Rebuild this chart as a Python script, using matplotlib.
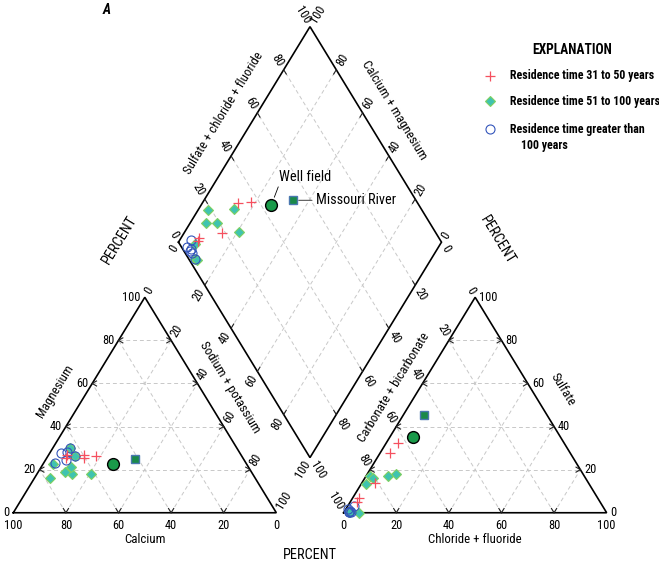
import numpy as np
import matplotlib.pyplot as plt
from matplotlib.lines import Line2D
from matplotlib import font_manager as fm
from matplotlib.textpath import TextPath

# pick a narrow sans face if one is installed (the original uses a condensed type)
FAMILY, STRETCH = 'Liberation Sans', 'normal'
narrow = [f for f in fm.fontManager.ttflist
          if ('narrow' in f.name.lower() or 'condensed' in f.name.lower()
              or str(f.stretch) in ('condensed', 'semi-condensed'))
          and 'mono' not in f.name.lower()]
for pref in ('Liberation Sans Narrow', 'Roboto Condensed', 'Noto Sans', 'DejaVu Sans',
             'Open Sans', 'Roboto'):
    hit = [f for f in narrow if f.name.startswith(pref)]
    if hit:
        FAMILY, STRETCH = hit[0].name, str(hit[0].stretch)
        break
plt.rcParams['font.family'] = [FAMILY, 'DejaVu Sans']
plt.rcParams['font.stretch'] = STRETCH

# scale all type so the legend line has the width it has in the original
_w = TextPath((0, 0), 'Residence time 31 to 50 years', size=8.8,
              prop=fm.FontProperties(family=FAMILY, stretch=STRETCH,
                                     weight='bold')).get_extents().width * 100 / 72
FS = float(np.clip(142.7 / _w, 0.7, 1.15))

# Percent milliequivalents
# Residence time 31 to 50 years
red_ca = [59.6, 55.3, 60.4, 66.3, 67.4]
red_mg = [26.8, 26.5, 25.2, 26.8, 25.2]
red_na = [13.6, 18.2, 14.4, 6.9, 7.4]
red_hco3 = [68.4, 63.4, 81.3, 91.0, 92.3]
red_so4 = [27.6, 32.2, 13.9, 6.7, 5.1]
red_cl = [4.0, 4.4, 4.8, 2.3, 2.6]

# Residence time 51 to 100 years
teal_ca = [73.8, 68.9, 78.0, 70.8, 61.6, 63.3, 63.4, 67.5]
teal_mg = [22.5, 17.8, 16.0, 19.0, 17.8, 30.2, 26.4, 21.3]
teal_na = [3.7, 13.3, 6.0, 10.2, 20.6, 6.5, 10.2, 11.2]
teal_hco3 = [81.3, 71.1, 84.9, 80.7, 74.8, 94.3, 97.8, 97.3]
teal_so4 = [17.0, 18.0, 13.2, 16.2, 17.0, 0.0, 0.5, 0.3]
teal_cl = [1.7, 10.9, 1.9, 3.1, 8.2, 5.7, 1.7, 2.4]

# Residence time greater than 100 years
blue_ca = [67.9, 72.5, 63.3, 67.7, 63.4, 65.5]
blue_mg = [27.6, 23.2, 30.2, 24.5, 26.4, 28.3]
blue_na = [4.5, 4.3, 6.5, 7.8, 10.2, 6.2]
blue_hco3 = [94.6, 97.8, 97.4, 97.2, 97.7, 97.0]
blue_so4 = [3.1, 0.5, 1.6, 0.8, 0.5, 0.4]
blue_cl = [2.3, 1.7, 1.0, 2.0, 1.8, 2.6]

# Well field and Missouri River
well = dict(ca=50.8, mg=22.5, na=26.7, hco3=56.1, so4=35.3, cl=8.6)
river = dict(ca=41.3, mg=24.8, na=33.9, hco3=46.7, so4=45.3, cl=8.0)

ticks = [0, 20, 40, 60, 80, 100]

# ---- geometry ----
H = np.sqrt(3) / 2
GAP = 25.6
OX = 100 + GAP
B = np.array([100 + GAP / 2, GAP / 2 * np.sqrt(3)])
VL = np.array([-50.0, 100 * H])
VR = np.array([50.0, 100 * H])


def cat_xy(ca, mg, na):
    ca, mg, na = map(np.asarray, (ca, mg, na))
    t = ca + mg + na
    return 100 * (na + mg / 2) / t, 100 * mg * H / t


def an_xy(hco3, so4, cl):
    hco3, so4, cl = map(np.asarray, (hco3, so4, cl))
    t = hco3 + so4 + cl
    return OX + 100 * (cl + so4 / 2) / t, 100 * so4 * H / t


def dia_ab(a, b):
    p = B + a * VL + b * VR
    return p[0], p[1]


def dia_xy(ca, mg, na, hco3, so4, cl):
    ca, mg, na, hco3, so4, cl = map(np.asarray, (ca, mg, na, hco3, so4, cl))
    a = (ca + mg) / (ca + mg + na)
    b = (so4 + cl) / (hco3 + so4 + cl)
    return B[0] + 50 * (b - a), B[1] + 100 * H * (a + b)


fig = plt.figure(figsize=(6.59, 5.64), dpi=100)
ax = fig.add_axes([0, 0, 1, 1])
XL = (-5.06, 245.5)
YL = (-20.6, 206.1)
ax.set_xlim(*XL)
ax.set_ylim(*YL)
ax.axis('off')
SX = 659 / (XL[1] - XL[0])
SY = 564 / (YL[1] - YL[0])
ANG = np.degrees(np.arctan2(100 * H * SY, 50 * SX))


def shift(p, ang, dist):
    r = np.radians(ang)
    return p[0] + dist * np.cos(r) / SX, p[1] + dist * np.sin(r) / SY


grid_kw = dict(color='#c8c8c8', lw=0.7, ls=(0, (4, 3)), zorder=1)
edge_kw = dict(color='black', lw=1.2, zorder=2, solid_joinstyle='miter')
tick_kw = dict(color='#222222', lw=0.8, zorder=2)
lab_kw = dict(fontsize=9.2 * FS, textcoords='offset pixels')


def tick(p, ang, ln=5):
    q = shift(p, ang, ln)
    ax.plot([p[0], q[0]], [p[1], q[1]], **tick_kw)


def num(p, txt, ang, dist, rot=0, ha='center', va='center'):
    r = np.radians(ang)
    ax.annotate(txt, xy=p, xytext=(dist * np.cos(r), dist * np.sin(r)),
                ha=ha, va=va, rotation=rot, rotation_mode='anchor', **lab_kw)


# ---- triangles ----
for ox in (0, OX):
    ax.plot([ox, ox + 100, ox + 50, ox], [0, 0, 100 * H, 0], **edge_kw)
    for k in ticks[1:-1]:
        ax.plot([ox + k / 2, ox + 100 - k / 2], [k * H, k * H], **grid_kw)
        ax.plot([ox + k, ox + k / 2], [0, k * H], **grid_kw)
        ax.plot([ox + k, ox + 50 + k / 2], [0, (100 - k) * H], **grid_kw)
        tick((ox + k / 2, k * H), 30)
        tick((ox + k / 2, k * H), -30)
        tick((ox + 100 - k / 2, k * H), 150)
        tick((ox + 100 - k / 2, k * H), 210)
        tick((ox + k, 0), ANG)
        tick((ox + k, 0), 180 - ANG)

# ---- diamond ----
corners = [(1, 0), (1, 1), (0, 1), (0, 0), (1, 0)]
ax.plot([dia_ab(*v)[0] for v in corners], [dia_ab(*v)[1] for v in corners], **edge_kw)
for k in ticks[1:-1]:
    f = k / 100
    p0, p1 = dia_ab(f, 0), dia_ab(f, 1)
    ax.plot([p0[0], p1[0]], [p0[1], p1[1]], **grid_kw)
    q0, q1 = dia_ab(0, f), dia_ab(1, f)
    ax.plot([q0[0], q1[0]], [q0[1], q1[1]], **grid_kw)
    tick(p0, ANG)
    tick(p1, 180 + ANG)
    tick(q0, 180 - ANG)
    tick(q1, -ANG)

# ---- tick labels ----
for v in ticks:
    s = str(v)
    # cation triangle
    num((100 - v, 0), s, -90, 13)
    num((v / 2, v * H), s, 180, 4, ha='right')
    num((50 + v / 2, (100 - v) * H), s, ANG, 5, rot=ANG, ha='left')
    # anion triangle
    num((OX + v, 0), s, -90, 13)
    num((OX + 100 - v / 2, v * H), s, 0, 4, ha='left')
    num((OX + (100 - v) / 2, (100 - v) * H), s, 180 - ANG, 5, rot=-ANG, ha='right')
    # diamond
    f = v / 100
    num(dia_ab(1 - f, 0), s, 180 + ANG, 5, rot=ANG, ha='right')
    num(dia_ab(1, f), s, 180 - ANG, 5, rot=-ANG, ha='right')
    num(dia_ab(f, 1), s, ANG, 5, rot=ANG, ha='left')
    num(dia_ab(0, 1 - f), s, -ANG, 5, rot=-ANG, ha='left')

# ---- axis names ----
name_kw = dict(fontsize=9.5 * FS, textcoords='offset pixels', ha='center', va='center')
ax.annotate('Calcium', xy=(50, 0), xytext=(0, -27), **name_kw)
ax.annotate('Chloride + fluoride', xy=(OX + 50, 0), xytext=(0, -27), **name_kw)
ax.annotate('Magnesium', xy=(25, 50 * H), xytext=(-24, 14), rotation=ANG, **name_kw)
ax.annotate('Sodium + potassium', xy=(75, 50 * H), xytext=(19, 18), rotation=-ANG, **name_kw)
ax.annotate('Carbonate + bicarbonate', xy=(OX + 25, 50 * H), xytext=(-16, 18),
            rotation=ANG, **name_kw)
ax.annotate('Sulfate', xy=(OX + 75, 50 * H), xytext=(22, 15), rotation=-ANG, **name_kw)
ax.annotate('Sulfate + chloride + fluoride', xy=dia_ab(1, 0.5), xytext=(-21, 21),
            rotation=ANG, **name_kw)
ax.annotate('Calcium + magnesium', xy=dia_ab(0.5, 1), xytext=(18, 24),
            rotation=-ANG, **name_kw)

# ---- data ----
groups = [
    ((teal_ca, teal_mg, teal_na), (teal_hco3, teal_so4, teal_cl),
     dict(marker='D', ms=4.8, mfc='#3fc3b0', mec='#80d060', mew=0.8, zorder=3)),
    ((blue_ca, blue_mg, blue_na), (blue_hco3, blue_so4, blue_cl),
     dict(marker='o', ms=6.5, mfc='none', mec='#3355bb', mew=0.8, zorder=4)),
    ((red_ca, red_mg, red_na), (red_hco3, red_so4, red_cl),
     dict(marker='+', ms=6.5, mew=0.9, color='#f5505f', zorder=5)),
]
for cat, an, st in groups:
    ax.plot(*cat_xy(*cat), ls='none', **st)
    ax.plot(*an_xy(*an), ls='none', **st)
    ax.plot(*dia_xy(*cat, *an), ls='none', **st)

well_st = dict(marker='o', ms=8.5, mfc='#1a9a4a', mec='black', mew=1.0, ls='none', zorder=6)
river_st = dict(marker='s', ms=5.5, mfc='#1a8a4a', mec='#4a78b0', mew=1.0, ls='none', zorder=6)
for d, st in ((well, well_st), (river, river_st)):
    ax.plot(*cat_xy(d['ca'], d['mg'], d['na']), **st)
    ax.plot(*an_xy(d['hco3'], d['so4'], d['cl']), **st)
    ax.plot(*dia_xy(d['ca'], d['mg'], d['na'], d['hco3'], d['so4'], d['cl']), **st)

wp = dia_xy(well['ca'], well['mg'], well['na'], well['hco3'], well['so4'], well['cl'])
rp = dia_xy(river['ca'], river['mg'], river['na'], river['hco3'], river['so4'], river['cl'])
ax.annotate('Well field', xy=(float(wp[0]), float(wp[1])), xytext=(8, 21),
            textcoords='offset pixels', fontsize=10.5 * FS, ha='left', va='bottom',
            arrowprops=dict(arrowstyle='-', color='black', lw=0.6, shrinkA=0,
                            shrinkB=6, relpos=(0, 0)))
ax.annotate('Missouri River', xy=(float(rp[0]), float(rp[1])), xytext=(23, 0),
            textcoords='offset pixels', fontsize=10.5 * FS, ha='left', va='center',
            arrowprops=dict(arrowstyle='-', color='#555555', lw=0.8, shrinkA=1,
                            shrinkB=4, relpos=(0, 0.5)))

# ---- PERCENT labels and panel letter ----
W, Hp = 659, 564
fig.text(120 / W, 1 - 240 / Hp, 'PERCENT', fontsize=10.5 * FS, rotation=ANG,
         ha='center', va='center')
fig.text(497 / W, 1 - 240 / Hp, 'PERCENT', fontsize=10.5 * FS, rotation=-ANG,
         ha='center', va='center')
fig.text(310 / W, 1 - 555 / Hp, 'PERCENT', fontsize=10.5 * FS, ha='center', va='center')
fig.text(107 / W, 1 - 10 / Hp, 'A', fontsize=10, fontweight='bold', style='italic',
         ha='center', va='center')

# ---- explanation ----
fig.text(572 / W, 1 - 50 / Hp, 'EXPLANATION', fontsize=10 * FS, fontweight='bold',
         ha='center', va='center')
leg = [
    (76, 'Residence time 31 to 50 years', groups[2][2]),
    (101, 'Residence time 51 to 100 years', groups[0][2]),
    (129, 'Residence time greater than', groups[1][2]),
]
for yy, txt, st in leg:
    st = {k: v for k, v in st.items() if k != 'zorder'}
    fig.add_artist(Line2D([490 / W], [1 - yy / Hp], transform=fig.transFigure, ls='none', **st))
    fig.text(510 / W, 1 - yy / Hp, txt, fontsize=8.8 * FS, fontweight='bold',
             ha='left', va='center')
fig.text(521 / W, 1 - 145 / Hp, '100 years', fontsize=8.8 * FS, fontweight='bold',
         ha='left', va='center')

fig.savefig('out.png', dpi=100)
